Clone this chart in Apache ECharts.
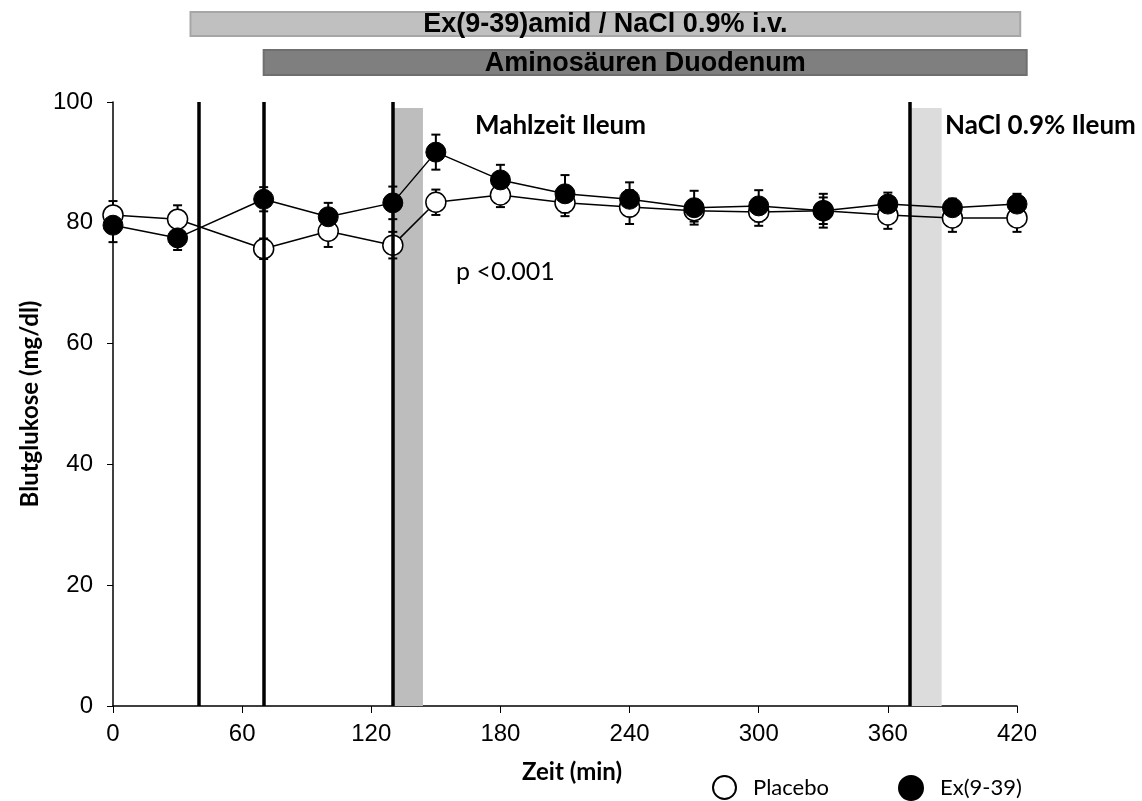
<!DOCTYPE html>
<html>
<head>
<meta charset="utf-8">
<script src="https://cdn.jsdelivr.net/npm/echarts@6/dist/echarts.min.js"></script>
<style>
  html, body { margin: 0; padding: 0; background: #fff; }
  #chart { width: 1142px; height: 801px; }
</style>
</head>
<body>
<div id="chart"></div>
<script>
// Zeitpunkte (min)
const times = [0, 30, 70, 100, 130, 150, 180, 210, 240, 270, 300, 330, 360, 390, 420];
// Blutglukose Mittelwerte (mg/dl)
const placebo = [81.3, 80.6, 75.7, 78.6, 76.3, 83.4, 84.6, 83.3, 82.6, 82.0, 81.8, 82.0, 81.3, 80.8, 80.8];
const ex939 = [79.6, 77.5, 83.9, 81.0, 83.3, 91.7, 87.1, 84.8, 83.9, 82.5, 82.8, 82.0, 83.1, 82.5, 83.1];
// SEM
const placeboErr = [2.3, 2.3, 1.7, 2.6, 2.2, 2.1, 2.0, 2.2, 2.8, 1.8, 2.3, 2.2, 2.3, 2.3, 2.3];
const exErr = [2.8, 2.0, 2.0, 2.3, 2.7, 2.9, 2.5, 3.1, 2.8, 2.8, 2.6, 2.8, 1.9, 1.5, 1.7];

const xTicks = [0, 420, 60];
const yTicks = [0, 100, 20];

// senkrechte Markierungen und Zeitfenster
const eventLines = [40, 70, 130, 370];
const mealBand = [130, 144];
const naclBand = [370, 385];
const bandTop = 99;

// Balken oben (Infusionsdauer, min)
const ivBar = [36, 421.5];
const aaBar = [70, 424.5];

const chart = echarts.init(document.getElementById('chart'));

function pairs(vals) {
  return times.map((t, i) => [t, vals[i]]);
}
function errPairs(vals, errs) {
  return times.map((t, i) => [t, vals[i], errs[i]]);
}

function renderErr(params, api) {
  const x = api.value(0), y = api.value(1), e = api.value(2);
  const hi = api.coord([x, y + e]);
  const lo = api.coord([x, y - e]);
  const w = 4.5;
  const st = { stroke: '#000', lineWidth: 2 };
  return {
    type: 'group',
    children: [
      { type: 'line', shape: { x1: hi[0], y1: hi[1], x2: lo[0], y2: lo[1] }, style: st },
      { type: 'line', shape: { x1: hi[0] - w, y1: hi[1], x2: hi[0] + w, y2: hi[1] }, style: st },
      { type: 'line', shape: { x1: lo[0] - w, y1: lo[1], x2: lo[0] + w, y2: lo[1] }, style: st }
    ]
  };
}

const axisFont = { fontFamily: 'Liberation Sans, Arial, sans-serif', fontSize: 24, color: '#000' };
const calibri = 'Lato, "Open Sans", sans-serif';

const option = {
  backgroundColor: '#ffffff',
  animation: false,
  grid: { left: 113, right: 125, top: 102, bottom: 95 },
  xAxis: {
    type: 'value',
    min: xTicks[0], max: xTicks[1], interval: xTicks[2],
    name: 'Zeit (min)',
    nameLocation: 'middle',
    nameGap: 54,
    nameTextStyle: { fontFamily: calibri, fontWeight: 'bold', fontSize: 24, color: '#000', padding: [0, 0, 0, 14] },
    axisLine: { lineStyle: { color: '#000', width: 1.5 } },
    axisTick: { show: true, inside: false, length: 7, lineStyle: { color: '#000', width: 1 } },
    axisLabel: Object.assign({ margin: 16 }, axisFont),
    splitLine: { show: false }
  },
  yAxis: {
    type: 'value',
    min: yTicks[0], max: yTicks[1], interval: yTicks[2],
    name: 'Blutglukose (mg/dl)',
    nameLocation: 'middle',
    nameGap: 62,
    nameTextStyle: { fontFamily: calibri, fontWeight: 'bold', fontSize: 24, color: '#000' },
    axisLine: { show: true, lineStyle: { color: '#000', width: 1.5 } },
    axisTick: { show: true, inside: false, length: 6, lineStyle: { color: '#000', width: 1 } },
    axisLabel: Object.assign({ margin: 20 }, axisFont),
    splitLine: { show: false }
  },
  legend: [
    {
      data: ['Placebo'], left: 707, top: 770, icon: 'circle',
      itemWidth: 23, itemHeight: 23,
      textStyle: { fontFamily: calibri, fontSize: 22, color: '#000', padding: [0, 0, 0, 12] }
    },
    {
      data: ['Ex(9-39)'], left: 893, top: 770, icon: 'circle',
      itemWidth: 24, itemHeight: 24,
      textStyle: { fontFamily: calibri, fontSize: 22, color: '#000', padding: [4, 0, 0, 12] }
    }
  ],
  series: [
    {
      name: 'bands', type: 'line', data: [], z: 1, silent: true,
      markArea: {
        silent: true,
        data: [
          [{ xAxis: mealBand[0], yAxis: 0, itemStyle: { color: '#bdbdbd' } }, { xAxis: mealBand[1], yAxis: bandTop }],
          [{ xAxis: naclBand[0], yAxis: 0, itemStyle: { color: '#dcdcdc' } }, { xAxis: naclBand[1], yAxis: bandTop }]
        ]
      }
    },
    {
      name: 'errP', type: 'custom', z: 2, silent: true,
      renderItem: renderErr, data: errPairs(placebo, placeboErr)
    },
    {
      name: 'errE', type: 'custom', z: 2, silent: true,
      renderItem: renderErr, data: errPairs(ex939, exErr)
    },
    {
      name: 'Placebo', type: 'line', z: 3,
      data: pairs(placebo),
      symbol: 'circle', symbolSize: 20,
      lineStyle: { color: '#000', width: 1.5 },
      itemStyle: { color: '#fff', borderColor: '#000', borderWidth: 1.5 }
    },
    {
      name: 'Ex(9-39)', type: 'line', z: 4,
      data: pairs(ex939),
      symbol: 'circle', symbolSize: 20,
      lineStyle: { color: '#000', width: 1.5 },
      itemStyle: { color: '#000', borderColor: '#000', borderWidth: 1 }
    },
    {
      name: 'events', type: 'line', data: [], z: 6, silent: true,
      markLine: {
        silent: true,
        symbol: ['none', 'none'],
        label: { show: false },
        lineStyle: { color: '#000', width: 3.5, type: 'solid' },
        data: eventLines.map(v => ({ xAxis: v }))
      }
    }
  ]
};

chart.setOption(option);

// Balken und Beschriftungen
function px(v) { return chart.convertToPixel({ xAxisIndex: 0 }, v); }
const barFont = 'bold 27px "Liberation Sans", Arial, sans-serif';
function topBar(range, y, h, fill, stroke, label) {
  const x1 = px(range[0]), x2 = px(range[1]);
  return [
    { type: 'rect', shape: { x: x1, y: y, width: x2 - x1, height: h }, style: { fill: fill, stroke: stroke, lineWidth: 2 } },
    { type: 'text', x: (x1 + x2) / 2, y: y + h / 2 + 1, style: { text: label, font: barFont, fill: '#000', align: 'center', verticalAlign: 'middle' } }
  ];
}

chart.setOption({
  graphic: [
    ...topBar(ivBar, 12, 24, '#c0c0c0', '#a6a6a6', 'Ex(9-39)amid / NaCl 0.9% i.v.'),
    ...topBar(aaBar, 50, 25, '#7f7f7f', '#6f6f6f', 'Aminosäuren Duodenum'),
    { type: 'text', x: 475, y: 126, style: { text: 'Mahlzeit Ileum', font: 'bold 26px ' + calibri, fill: '#000', verticalAlign: 'middle' } },
    { type: 'text', x: 945, y: 126, style: { text: 'NaCl 0.9% Ileum', font: 'bold 26px ' + calibri, fill: '#000', verticalAlign: 'middle' } },
    { type: 'text', x: 456, y: 272, style: { text: 'p <0.001', font: '25px ' + calibri, fill: '#000', verticalAlign: 'middle' } }
  ]
});
</script>
</body>
</html>
